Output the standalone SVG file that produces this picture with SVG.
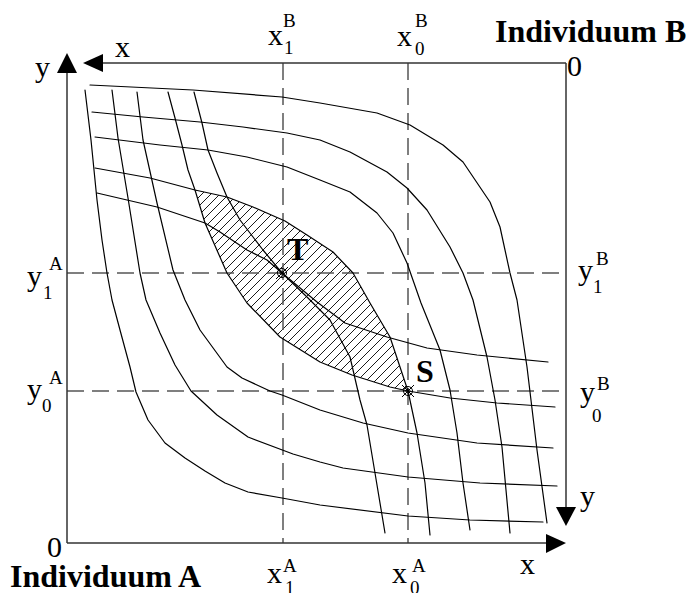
<svg xmlns="http://www.w3.org/2000/svg" width="686" height="593" viewBox="0 0 686 593">
<defs>
<style>
.ax{stroke:#333;stroke-width:1.5;fill:none}
.ah{fill:#000;stroke:none}
.dash{stroke:#555;stroke-width:1.5;fill:none;stroke-dasharray:17 8}
.cv{stroke:#000;stroke-width:1.2;fill:none;stroke-linejoin:round;stroke-linecap:round}
.t{font-family:"Liberation Serif","Times New Roman",serif;font-size:30px;fill:#000}
.s{font-family:"Liberation Serif","Times New Roman",serif;font-size:19px;fill:#000}
.b{font-family:"Liberation Serif","Times New Roman",serif;font-size:32px;font-weight:bold;fill:#000}
.pt{stroke:#000;stroke-width:1;fill:none}
</style>
<pattern id="hatch" patternUnits="userSpaceOnUse" width="9" height="9">
<path d="M0,9 L9,0 M-1,1 L1,-1 M8,10 L10,8" stroke="#000" stroke-width="0.9"/>
</pattern>
</defs>

<g id="hatch-region">
<path fill="url(#hatch)" stroke="none" d="M195,190 L205,223 L227,273 L247,303 L280,337 L320,362 L352,375 L390,387 L408,391 L390,337 L370,303 L353,273 L333,252 L307,235 L285,221 L253,207 L227,197 Z"/>
</g>

<g id="guides">
<line class="dash" x1="283" y1="63" x2="283" y2="543"/>
<line class="dash" x1="408" y1="63" x2="408" y2="543"/>
<line class="dash" x1="67" y1="273" x2="566" y2="273"/>
<line class="dash" x1="67" y1="391" x2="566" y2="391"/>
</g>

<g id="axes">
<line class="ax" x1="67" y1="543" x2="67" y2="70"/>
<polygon class="ah" points="67,53 57,73 77,73"/>
<line class="ax" x1="67" y1="543" x2="548" y2="543"/>
<polygon class="ah" points="566,543 546,534 546,553"/>
<line class="ax" x1="566" y1="63" x2="100" y2="63"/>
<polygon class="ah" points="83,63 103,54 103,72"/>
<line class="ax" x1="566" y1="63" x2="566" y2="509"/>
<polygon class="ah" points="566,526 556,507 576,507"/>
</g>

<g id="curves-A">
<polyline class="cv" points="85,90 91,140 97,200 102,240 107,273 112,300 120,330 130,367 136,392 148,420 165,443 185,458 205,471 225,483 248,492 282,498 320,505 408,516 470,520 543,522"/>
<polyline class="cv" points="112,90 118,138 128,198 140,273 146,300 160,333 175,365 191,391 217,415 248,437 293,454 320,462 343,468 408,477 480,483 557,486"/>
<polyline class="cv" points="137,92 143,140 157,203 173,270 185,300 200,330 227,367 242,378 270,391 282,395 320,410 363,423 408,433 477,443 553,448"/>
<polyline class="cv" points="168,92 175,118 182,145 188,170 195,190 205,223 227,273 247,303 280,337 320,362 352,375 390,387 408,391 450,398 497,403 555,407"/>
<polyline class="cv" points="194,92 202,123 208,150 217,173 227,197 240,220 263,250 282,273 317,302 345,323 387,337 427,348 477,355 548,362"/>
</g>

<g id="curves-B">
<polyline class="cv" points="90,85 193,90 282,97 320,103 377,113 410,125 443,145 463,162 490,202 500,227 510,273 517,300 527,367 537,450 547,523"/>
<polyline class="cv" points="92,112 143,117 200,122 243,127 287,133 320,140 350,152 387,172 407,188 427,210 450,247 463,273 473,300 487,357 495,400 502,447 510,533"/>
<polyline class="cv" points="95,137 160,145 208,150 247,157 287,167 320,180 350,192 377,213 393,233 407,263 421,303 440,350 450,390 457,433 463,483 470,530"/>
<polyline class="cv" points="95,168 150,178 195,190 227,197 253,207 285,221 307,235 333,252 353,273 370,303 390,337 408,391 417,433 425,483 430,535"/>
<polyline class="cv" points="97,193 127,200 157,207 187,217 205,223 220,232 247,250 267,260 282,273 307,297 330,320 350,357 360,400 367,425 375,473 385,533"/>
</g>

<g id="point-T">
<circle class="pt" cx="282" cy="273" r="4.5"/>
<circle class="pt" cx="282" cy="273" r="2"/>
<path class="pt" d="M276,267 L288,279 M288,267 L276,279"/>
<text class="b" x="287" y="260">T</text>
</g>
<g id="point-S">
<circle class="pt" cx="408" cy="391" r="4.5"/>
<circle class="pt" cx="408" cy="391" r="2"/>
<path class="pt" d="M402,385 L414,397 M414,385 L402,397"/>
<text class="b" x="416" y="382">S</text>
</g>

<g id="labels">
<text class="b" x="495" y="42">Individuum B</text>
<text class="b" x="10" y="587">Individuum A</text>
<text class="t" x="35" y="77">y</text>
<text class="t" x="115" y="57">x</text>
<text class="t" x="567" y="76">0</text>
<text class="t" x="47" y="557">0</text>
<text class="t" x="520" y="574">x</text>
<text class="t" x="580" y="506">y</text>
<text class="t" x="268" y="45">x</text><text class="s" x="283" y="27">B</text><text class="s" x="284" y="54">1</text>
<text class="t" x="397" y="46">x</text><text class="s" x="415" y="27">B</text><text class="s" x="415" y="55">0</text>
<text class="t" x="267" y="583">x</text><text class="s" x="283" y="572">A</text><text class="s" x="285" y="594">1</text>
<text class="t" x="392" y="583">x</text><text class="s" x="412" y="572">A</text><text class="s" x="410" y="594">0</text>
<text class="t" x="27" y="286">y</text><text class="s" x="49" y="270">A</text><text class="s" x="43" y="299">1</text>
<text class="t" x="27" y="399">y</text><text class="s" x="49" y="384">A</text><text class="s" x="42" y="412">0</text>
<text class="t" x="578" y="280">y</text><text class="s" x="596" y="265">B</text><text class="s" x="593" y="293">1</text>
<text class="t" x="580" y="402">y</text><text class="s" x="597" y="390">B</text><text class="s" x="592" y="422">0</text>
</g>
</svg>
